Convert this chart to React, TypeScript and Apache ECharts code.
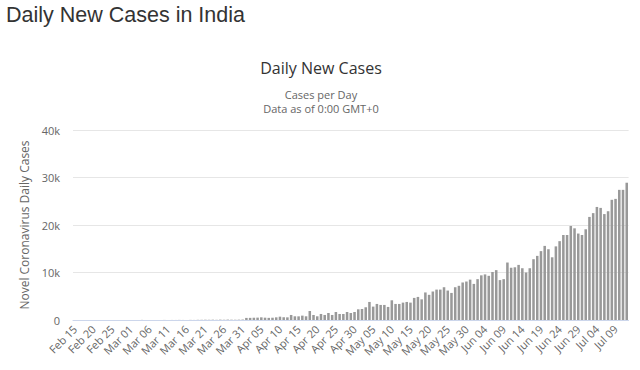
import { useEffect, useRef } from 'react';
import * as echarts from 'echarts';

const PAGE_TITLE = 'Daily New Cases in India';
const CHART_TITLE = 'Daily New Cases';
const SUBTITLE_LINES = ['Cases per Day', 'Data as of 0:00 GMT+0'];
const Y_AXIS_NAME = 'Novel Coronavirus Daily Cases';
const Y_MIN = 0;
const Y_MAX = 40000;
const Y_STEP = 10000;

// Daily new cases, by month (2020)
const febValues = [0, 0, 0, 0, 0, 0, 0, 0, 0, 0, 0, 0, 0, 0, 0]; // Feb 15 - Feb 29
const marValues = [
  0, 2, 1, 22, 2, 1, 3, 5, 4, 13, 6, 11, 9, 20, 11, 6,
  23, 14, 38, 40, 56, 46, 63, 37, 71, 50, 80, 60, 52, 70, 90,
];
const aprValues = [
  440, 450, 480, 500, 560, 490, 450, 480, 560, 700,
  580, 560, 1060, 780, 770, 920, 780, 1900, 1060, 780,
  1270, 1060, 1480, 1060, 1690, 1270, 1270, 1690, 1480, 1690,
];
const mayValues = [
  2250, 2320, 2680, 3800, 2820, 3380, 3170, 3170, 2750, 4150,
  3380, 3380, 3660, 3800, 3660, 4650, 4860, 4350, 5800, 5300,
  6000, 6400, 6400, 6900, 6200, 5700, 6900, 7200, 7900, 8100,
  8500,
];
const junValues = [
  7600, 8600, 9400, 9600, 9300, 10100, 10500, 8400, 8600, 12100,
  11000, 11100, 11600, 10900, 10000, 10900, 12800, 13500, 14500, 15600,
  14900, 13200, 15500, 16600, 17900, 17900, 19800, 19300, 18200, 17900,
];
const julValues = [
  19100, 21700, 22500, 23800, 23600, 22300, 22900, 25300, 25500, 27400,
  27400, 28900,
];

const MONTHS = [
  { name: 'Feb', startDay: 15, values: febValues },
  { name: 'Mar', startDay: 1, values: marValues },
  { name: 'Apr', startDay: 1, values: aprValues },
  { name: 'May', startDay: 1, values: mayValues },
  { name: 'Jun', startDay: 1, values: junValues },
  { name: 'Jul', startDay: 1, values: julValues },
];

const categories: string[] = [];
const values: number[] = [];
MONTHS.forEach((m) => {
  m.values.forEach((v, i) => {
    const d = m.startDay + i;
    categories.push(`${m.name} ${d < 10 ? '0' + d : d}`);
    values.push(v);
  });
});

const LABEL_FONT = '"Open Sans", sans-serif';

export default function App() {
  const ref = useRef<HTMLDivElement>(null);
  useEffect(() => {
    if (!ref.current) return;
    const chart = echarts.init(ref.current, null, { renderer: 'svg' });
    chart.setOption({
      animation: false,
      backgroundColor: '#ffffff',
      graphic: [
        {
          type: 'text',
          left: 6,
          top: 4,
          style: {
            text: PAGE_TITLE,
            fill: '#333333',
            font: '21.5px "Liberation Sans", Arial, sans-serif',
          },
        },
        {
          type: 'text',
          x: 321,
          y: 68,
          style: {
            text: CHART_TITLE,
            fill: '#333333',
            font: '16px "Open Sans", sans-serif',
            align: 'center',
            verticalAlign: 'middle',
          },
        },
        ...SUBTITLE_LINES.map((t, i) => ({
          type: 'text',
          x: 321,
          y: 94.5 + i * 14,
          style: {
            text: t,
            fill: '#666666',
            font: '11px "Open Sans", sans-serif',
            align: 'center',
            verticalAlign: 'middle',
          },
        })),
      ],
      grid: { left: 73, right: 11.4, top: 130, bottom: 50 },
      xAxis: {
        type: 'category',
        data: categories,
        axisLine: { lineStyle: { color: '#ccd6eb', width: 1 } },
        axisTick: { show: false },
        axisLabel: {
          interval: 4,
          rotate: 45,
          color: '#666666',
          fontSize: 11,
          fontFamily: LABEL_FONT,
          margin: 7,
        },
      },
      yAxis: {
        type: 'value',
        min: Y_MIN,
        max: Y_MAX,
        interval: Y_STEP,
        name: Y_AXIS_NAME,
        nameLocation: 'middle',
        nameGap: 42,
        nameTextStyle: { color: '#666666', fontSize: 12, fontFamily: LABEL_FONT },
        axisLine: { show: false },
        axisTick: { show: false },
        splitLine: { lineStyle: { color: '#e6e6e6', width: 1 } },
        axisLabel: {
          color: '#666666',
          fontSize: 11,
          fontFamily: LABEL_FONT,
          margin: 13,
          formatter: (v: number) => (v === 0 ? '0' : `${v / 1000}k`),
        },
      },
      series: [
        {
          type: 'bar',
          data: values,
          barWidth: '68%',
          itemStyle: { color: '#999999' },
        },
      ],
    });
    return () => chart.dispose();
  }, []);
  return (
    <div
      ref={ref}
      style={{ position: 'fixed', left: 0, top: 0, width: 640, height: 370 }}
    />
  );
}
